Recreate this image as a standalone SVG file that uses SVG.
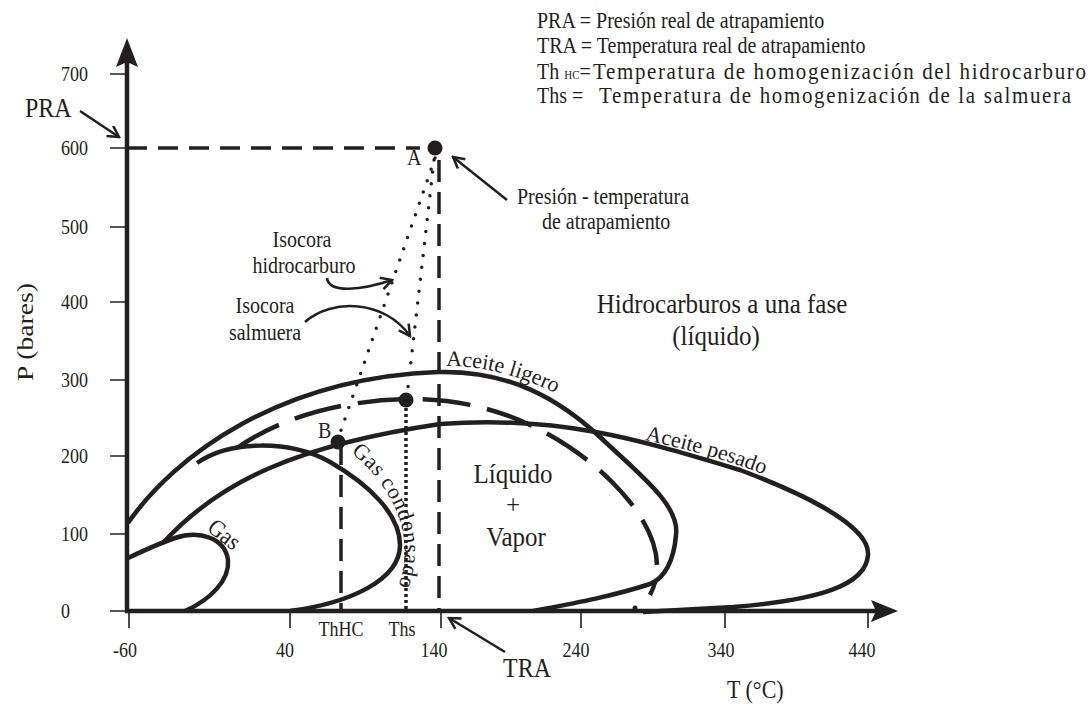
<svg xmlns="http://www.w3.org/2000/svg" width="1091" height="704" viewBox="0 0 1091 704">
<style>
text{font-family:"Liberation Serif","Times New Roman",serif;fill:#231f20}
.tk{font-size:18px}
.lg{font-size:20px}
.lb{font-size:20px}
.big{font-size:25px}
.ax{fill:none;stroke:#231f20;stroke-width:4.5}
.tick{fill:none;stroke:#231f20;stroke-width:1.6}
.c{fill:none;stroke:#231f20;stroke-width:4.5;stroke-linejoin:round}
.dash{fill:none;stroke:#231f20;stroke-width:4.5;stroke-dasharray:48 17}
.vd{fill:none;stroke:#231f20;stroke-width:3.5;stroke-dasharray:22 10}
.dot{fill:none;stroke:#231f20;stroke-width:3.5;stroke-linecap:round;stroke-dasharray:0 12}
.vdot{fill:none;stroke:#231f20;stroke-width:3.5;stroke-dasharray:3 3}
.ar{fill:none;stroke:#231f20;stroke-width:2.5;marker-end:url(#v)}
</style>
<defs>
<marker id="v" viewBox="0 0 14 14" refX="12" refY="7" markerWidth="14" markerHeight="14" markerUnits="userSpaceOnUse" orient="auto">
<path d="M1,1 L12,7 L1,13" fill="none" stroke="#231f20" stroke-width="2.5"/>
</marker>
<path id="pLig" d="M446,366 C490,366 530,378 585,408"/>
<path id="pPes" d="M645,440 C690,450 740,462 800,490"/>
<path id="pGc" d="M351,452 C378,475 400,505 404,540 C407,565 400,585 390,606"/>
</defs>

<g id="legend" class="lg">
<text transform="matrix(1 0 0 1.12 537 28)">PRA = Presión real de atrapamiento</text>
<text transform="matrix(1 0 0 1.12 537 53)">TRA = Temperatura real de atrapamiento</text>
<text transform="matrix(1 0 0 1.12 537 79)">Th <tspan font-size="11">HC</tspan>=</text>
<text transform="matrix(1 0 0 1.12 593 79)" font-size="21" textLength="493" lengthAdjust="spacing">Temperatura de homogenización del hidrocarburo</text>
<text transform="matrix(1 0 0 1.12 537 103)">Ths =</text>
<text transform="matrix(1 0 0 1.12 599 103)" font-size="21" textLength="472" lengthAdjust="spacing">Temperatura de homogenización de la salmuera</text>
</g>

<g id="axes">
<line class="ax" x1="127" y1="613" x2="127" y2="60"/>
<polygon points="127,38 138,67 127,62 116,67" fill="#231f20"/>
<line class="ax" x1="125" y1="611" x2="878" y2="611"/>
<polygon points="898,611 871,600 876,611 871,622" fill="#231f20"/>
<path class="tick" d="M110,74H127M110,148H127M110,227H127M110,302H127M110,380H127M110,456H127M110,534H127M110,611H127"/>
<path class="tick" d="M129,611V628M290,611V628M441,611V628M581,611V628M725,611V628M868,611V628"/>
<g class="tk">
<text transform="matrix(1 0 0 1.15 61 81)">700</text>
<text transform="matrix(1 0 0 1.15 61 155)">600</text>
<text transform="matrix(1 0 0 1.15 61 234)">500</text>
<text transform="matrix(1 0 0 1.15 61 309)">400</text>
<text transform="matrix(1 0 0 1.15 61 387)">300</text>
<text transform="matrix(1 0 0 1.15 61 463)">200</text>
<text transform="matrix(1 0 0 1.15 61 541)">100</text>
<text transform="matrix(1 0 0 1.15 61 618)">0</text>
</g>
<g class="tk" text-anchor="middle">
<text transform="matrix(1 0 0 1.15 125 657)">-60</text>
<text transform="matrix(1 0 0 1.15 285 657)">40</text>
<text transform="matrix(1 0 0 1.15 434 657)">140</text>
<text transform="matrix(1 0 0 1.15 576 657)">240</text>
<text transform="matrix(1 0 0 1.15 721 657)">340</text>
<text transform="matrix(1 0 0 1.15 862 657)">440</text>
<text transform="matrix(1 0 0 1.15 341 636)">ThHC</text>
<text transform="matrix(1 0 0 1.15 402 636)">Ths</text>
</g>
<text font-size="23" text-anchor="middle" transform="translate(33 332) rotate(-90) scale(1.2 1)">P (bares)</text>
<text font-size="22" transform="matrix(1 0 0 1.12 727 698)">T (°C)</text>
</g>

<g id="envelopes">
<path id="aceite-ligero" class="c" d="M128,523 C175,455 280,378 438,372 C510,370 560,400 600,437 C640,475 680,505 676,535 C674,560 665,578 650,584 C610,597 570,604 533,611"/>
<path id="aceite-pesado" class="c" d="M163,543 C220,480 300,445 440,424 C560,415 640,440 740,470 C820,500 870,530 868,555 C866,585 820,600 733,607 L643,612"/>
<path id="gas-condensado" class="c" d="M197,463 C230,440 290,440 330,462 C370,485 400,515 400,545 C400,580 350,603 290,611"/>
<path id="gas" class="c" d="M128,558 C145,550 160,543 175,538 C200,530 225,538 228,560 C230,580 210,600 185,611"/>
<path id="envolvente-discontinua" class="dash" d="M237,448 C280,418 340,400 410,399 C500,398 570,440 612,482 C650,520 668,560 650,595"/>
<circle cx="635" cy="608" r="2.5" fill="#231f20"/>
</g>

<g id="labels-curves" class="lb">
<text font-size="22"><textPath href="#pLig">Aceite ligero</textPath></text>
<text font-size="22"><textPath href="#pPes">Aceite pesado</textPath></text>
<text font-size="22"><textPath href="#pGc" textLength="152" lengthAdjust="spacing">Gas condensado</textPath></text>
<text font-size="22" transform="translate(206 530) rotate(38) scale(1 1.1)">Gas</text>
</g>

<g id="construction">
<line class="vd" x1="127" y1="148" x2="420" y2="148" style="stroke-dasharray:20 11"/>
<line class="vd" x1="439" y1="160" x2="439" y2="611"/>
<line class="vd" x1="341" y1="443" x2="341" y2="611"/>
<line class="vdot" x1="406" y1="402" x2="406" y2="611"/>
<line class="dot" x1="435" y1="158" x2="339" y2="436"/>
<line class="dot" x1="434" y1="160" x2="407" y2="396"/>
</g>

<g id="point-A"><circle cx="435" cy="148" r="7.5" fill="#231f20"/><text class="lb" transform="matrix(1 0 0 1.12 407 165)">A</text></g>
<g id="point-B"><circle cx="338" cy="442" r="7.5" fill="#231f20"/><text class="lb" transform="matrix(1 0 0 1.12 318 438)">B</text></g>
<g id="point-Ths"><circle cx="406" cy="400" r="7.5" fill="#231f20"/></g>

<g id="annotations">
<text font-size="24" transform="matrix(1 0 0 1.12 25 117)">PRA</text>
<text font-size="24" transform="matrix(1 0 0 1.12 503 677)">TRA</text>
<text class="lb" transform="matrix(1 0 0 1.12 517 204)">Presión - temperatura</text>
<text class="lb" transform="matrix(1 0 0 1.12 542 229)">de atrapamiento</text>
<g class="lb" text-anchor="middle">
<text transform="matrix(1 0 0 1.12 302 247)">Isocora</text>
<text transform="matrix(1 0 0 1.12 304 273)">hidrocarburo</text>
<text transform="matrix(1 0 0 1.12 265 313)">Isocora</text>
<text transform="matrix(1 0 0 1.12 265 340)">salmuera</text>
</g>
<g class="big" text-anchor="middle">
<text transform="matrix(1 0 0 1.12 722 313)">Hidrocarburos a una fase</text>
<text transform="matrix(1 0 0 1.12 716 345)">(líquido)</text>
<text transform="matrix(1 0 0 1.12 513 483)">Líquido</text>
<text transform="matrix(1 0 0 1.12 513 514)">+</text>
<text transform="matrix(1 0 0 1.12 516 546)">Vapor</text>
</g>
</g>

<g id="connectors">
<line class="ar" x1="80" y1="111" x2="119" y2="137"/>
<line class="ar" x1="505" y1="652" x2="449" y2="618"/>
<line class="ar" x1="507" y1="200" x2="453" y2="157"/>
<path class="ar" d="M327,278 C329,294 362,290 392,280"/>
<path class="ar" d="M305,322 C332,298 385,300 410,336"/>
</g>
</svg>
